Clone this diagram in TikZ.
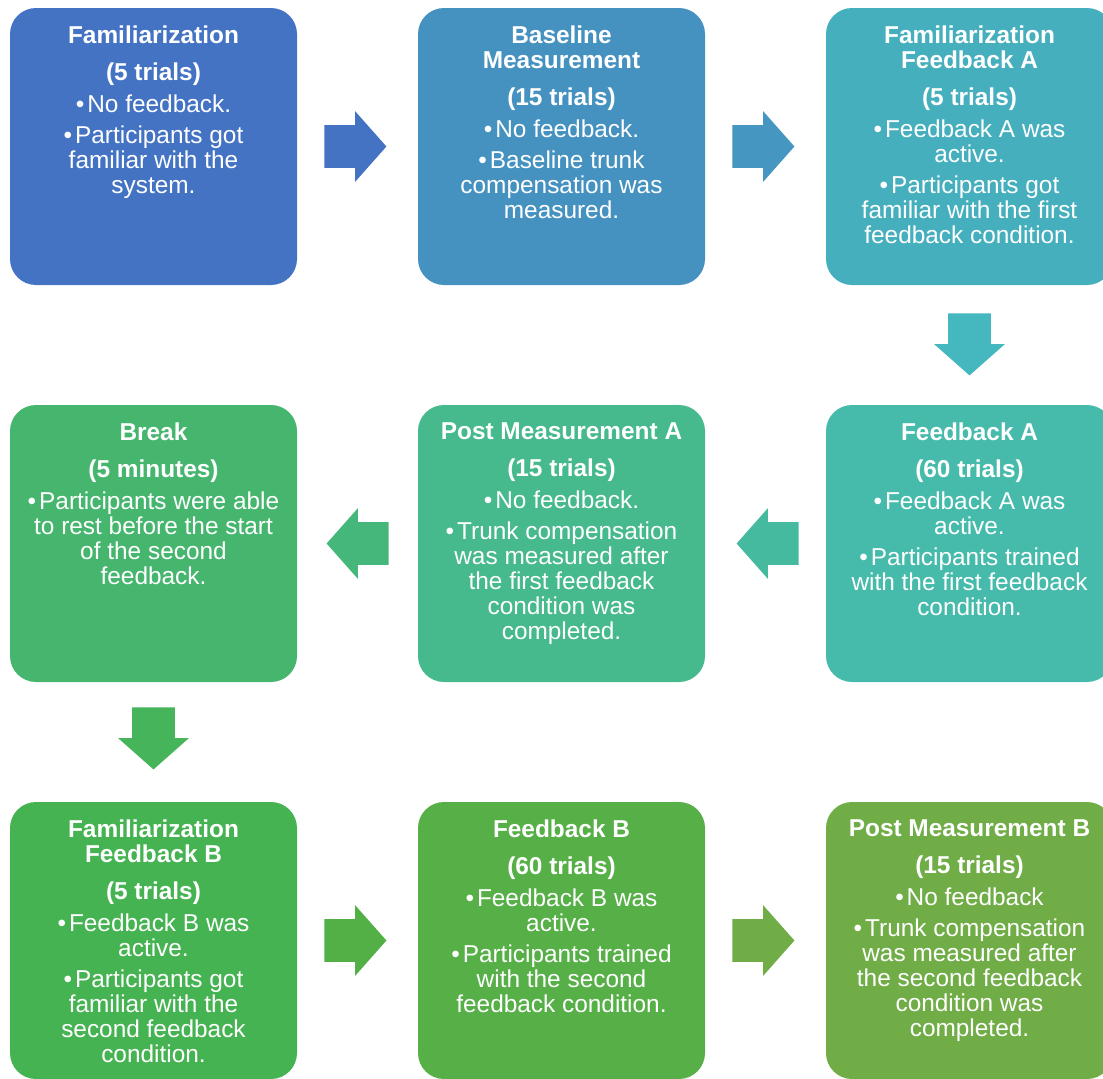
\documentclass[tikz,border=0pt]{standalone}
\usepackage{fontspec}
\setmainfont{Liberation Sans}
\usetikzlibrary{positioning, shapes.arrows}

% Stage colours, blue through to green
\definecolor{stageA}{HTML}{4473C4}
\definecolor{stageB}{HTML}{4592C1}
\definecolor{stageC}{HTML}{45AFBE}
\definecolor{stageD}{HTML}{46BBAC}
\definecolor{stageE}{HTML}{46B98D}
\definecolor{stageF}{HTML}{46B66F}
\definecolor{stageG}{HTML}{46B352}
\definecolor{stageH}{HTML}{56B047}
\definecolor{stageI}{HTML}{70AD47}

% Arrow colours
\definecolor{flowA}{HTML}{4473C4}
\definecolor{flowB}{HTML}{4596C1}
\definecolor{flowC}{HTML}{45B7BE}
\definecolor{flowD}{HTML}{46BA9E}
\definecolor{flowE}{HTML}{46B77B}
\definecolor{flowF}{HTML}{46B45A}
\definecolor{flowG}{HTML}{52B047}
\definecolor{flowH}{HTML}{70AD47}

\newcommand{\itm}{\textbullet\hspace{0.12em}}

\tikzset{
	stage/.style = {rectangle, rounded corners = 13pt, draw = none, minimum width = 143.5pt, minimum height = 138.5pt, inner sep = 0pt, outer sep = 0pt},
	stagetext/.style = {inner sep = 0pt, align = center, text = white, font = \fontsize{12.2}{12.5}\selectfont},
	flow/.style = {single arrow, draw = none, inner xsep = 0pt, inner ysep = 10.5pt, minimum height = 31pt, single arrow head extend = 7pt, single arrow tip angle = 97, single arrow head indent = 0pt, anchor = tail}
}

\begin{document}
\begin{tikzpicture}[node distance = 60pt and 60.5pt]

	\clip (0, 0) rectangle (551.5pt, -539pt);

	% The stages
	
	\node [stage, fill = stageA, anchor = north west] (fam) at (5pt, -4pt) {};
	\node [stage, fill = stageB, right = of fam] (base) {};
	\node [stage, fill = stageC, right = of base] (famA) {};
	\node [stage, fill = stageD, below = of famA] (fbA) {};
	\node [stage, fill = stageE, left = of fbA] (postA) {};
	\node [stage, fill = stageF, left = of postA] (brk) {};
	\node [stage, fill = stageG, below = of brk] (famB) {};
	\node [stage, fill = stageH, right = of famB] (fbB) {};
	\node [stage, fill = stageI, right = of fbB] (postB) {};

	% Texts in the stages
	
	\node [stagetext, below = 8.75pt of fam.north] (famtext) {%
		\textbf{Familiarization}\\[6pt]
		\textbf{(5 trials)}\\[3.5pt]
		\itm No feedback.\\[3pt]
		\itm Participants got\\
		familiar with the\\
		system.};
	
	\node [stagetext, below = 8.75pt of base.north] (basetext) {%
		\textbf{Baseline}\\
		\textbf{Measurement}\\[6pt]
		\textbf{(15 trials)}\\[3.5pt]
		\itm No feedback.\\[3pt]
		\itm Baseline trunk\\
		compensation was\\
		measured.};
	
	\node [stagetext, below = 8.75pt of famA.north] (famAtext) {%
		\textbf{Familiarization}\\
		\textbf{Feedback A}\\[6pt]
		\textbf{(5 trials)}\\[3.5pt]
		\itm Feedback A was\\
		active.\\[3pt]
		\itm Participants got\\
		familiar with the first\\
		feedback condition.};
	
	\node [stagetext, below = 8.75pt of fbA.north] (fbAtext) {%
		\textbf{Feedback A}\\[6pt]
		\textbf{(60 trials)}\\[3.5pt]
		\itm Feedback A was\\
		active.\\[3pt]
		\itm Participants trained\\
		with the first feedback\\
		condition.};
	
	\node [stagetext, below = 8.75pt of postA.north] (postAtext) {%
		\textbf{Post Measurement A}\\[6pt]
		\textbf{(15 trials)}\\[3.5pt]
		\itm No feedback.\\[3pt]
		\itm Trunk compensation\\
		was measured after\\
		the first feedback\\
		condition was\\
		completed.};
	
	\node [stagetext, below = 8.75pt of brk.north] (brktext) {%
		\textbf{Break}\\[6pt]
		\textbf{(5 minutes)}\\[3.5pt]
		\itm Participants were able\\
		to rest before the start\\
		of the second\\
		feedback.};
	
	\node [stagetext, below = 8.75pt of famB.north] (famBtext) {%
		\textbf{Familiarization}\\
		\textbf{Feedback B}\\[6pt]
		\textbf{(5 trials)}\\[3.5pt]
		\itm Feedback B was\\
		active.\\[3pt]
		\itm Participants got\\
		familiar with the\\
		second feedback\\
		condition.};
	
	\node [stagetext, below = 8.75pt of fbB.north] (fbBtext) {%
		\textbf{Feedback B}\\[6pt]
		\textbf{(60 trials)}\\[3.5pt]
		\itm Feedback B was\\
		active.\\[3pt]
		\itm Participants trained\\
		with the second\\
		feedback condition.};
	
	\node [stagetext, below = 8.75pt of postB.north] (postBtext) {%
		\textbf{Post Measurement B}\\[6pt]
		\textbf{(15 trials)}\\[3.5pt]
		\itm No feedback\\[3pt]
		\itm Trunk compensation\\
		was measured after\\
		the second feedback\\
		condition was\\
		completed.};

	% Block arrows between the stages
	
	\node [flow, fill = flowA] (fam-base) at ([xshift = 13.5pt] fam.east) {};
	\node [flow, fill = flowB] (base-famA) at ([xshift = 13.5pt] base.east) {};
	\node [flow, fill = flowC, rotate = -90] (famA-fbA) at ([yshift = -14pt] famA.south) {};
	\node [flow, fill = flowD, rotate = 180] (fbA-postA) at ([xshift = -13.5pt] fbA.west) {};
	\node [flow, fill = flowE, rotate = 180] (postA-brk) at ([xshift = -14.5pt] postA.west) {};
	\node [flow, fill = flowF, rotate = -90] (brk-famB) at ([yshift = -12.5pt] brk.south) {};
	\node [flow, fill = flowG] (famB-fbB) at ([xshift = 13.5pt] famB.east) {};
	\node [flow, fill = flowH] (fbB-postB) at ([xshift = 13.5pt] fbB.east) {};

\end{tikzpicture}
\end{document}
